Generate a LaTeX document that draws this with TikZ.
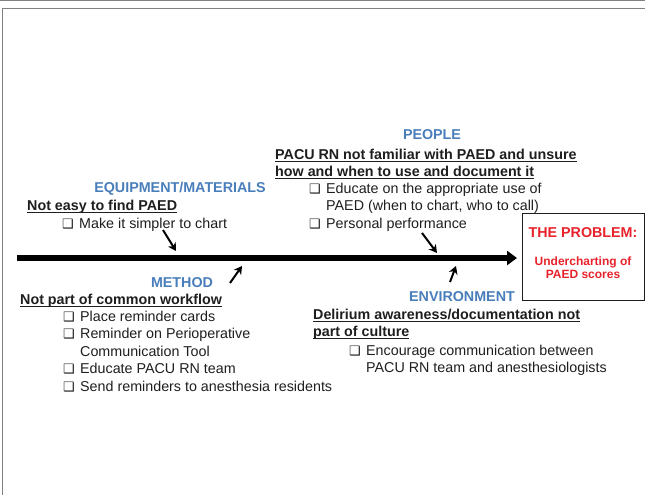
\documentclass[tikz,border=0pt]{standalone}
\usepackage{fontspec}
\setmainfont{Liberation Sans}
\newfontfamily\dejavu{DejaVu Sans}
\usetikzlibrary{arrows.meta}
\definecolor{catBlue}{HTML}{4A7EBB}
\definecolor{probRed}{HTML}{E8222B}
\definecolor{frameGray}{HTML}{808080}
\definecolor{inkBlack}{HTML}{1E1E1E}
\newcommand{\chk}{\makebox[17pt][l]{\dejavu\fontsize{13}{13}\selectfont ❑}}
\newcommand{\hang}{\hspace*{17pt}}
% heavier underline than \underline gives
\newcommand{\cause}[1]{\setbox0\hbox{#1}\rlap{\rule[-3pt]{\wd0}{1.2pt}}\box0}

\begin{document}
\begin{tikzpicture}[x=1pt,y=-1pt,
  every node/.style={inner sep=0pt, text=inkBlack, font=\fontsize{14.3}{17.5}\selectfont},
  category/.style={text=catBlue, font=\bfseries\fontsize{14.3}{17.5}\selectfont, anchor=base},
  causeline/.style={font=\bfseries\fontsize{14.3}{17}\selectfont, anchor=base west, align=left},
  actions/.style={anchor=base west, align=left},
  spine/.style={line width=6pt, -{Triangle[length=10pt,width=14pt]}},
  nudge/.style={line width=2pt, -{Stealth[length=8pt,width=9pt]}},
]
\useasboundingbox (0,0) rectangle (645,495);

% page frame
\draw[frameGray, line width=1.5pt] (0,0.75) -- (645,0.75);
\draw[frameGray, line width=1pt] (2.5,495) -- (2.5,9) -- (645,9);

% effect box
\node[draw=inkBlack, line width=1pt, minimum width=122pt, minimum height=87pt, anchor=north west] (problem) at (522,213) {};
\node[text=probRed, font=\bfseries\fontsize{14.3}{17.5}\selectfont, anchor=base] (problemhead) at (583,237) {THE PROBLEM:};
% multi-line nodes sit on the baseline of their last line
\node[text=probRed, font=\bfseries\fontsize{12}{13}\selectfont, anchor=base, align=center] (problemtext) at (583,278) {Undercharting of\\PAED scores};

% backbone
\coordinate (spinestart) at (17,258);
\draw[spine, shorten >=5pt] (spinestart) -- (spinestart -| problem.west);

% equipment / materials
\node[category] (equip) at (180,192) {EQUIPMENT/MATERIALS};
\node[causeline] (equipcause) at (27,210) {\cause{Not easy to find PAED}};
\node[actions] (equipacts) at (62,228) {\chk Make it simpler to chart};

% people
\node[category] (people) at (432,139) {PEOPLE};
\node[causeline] (peoplecause) at (275,176) {\cause{PACU RN not familiar with PAED and unsure}\\\cause{how and when to use and document it}};
\node[actions] (peopleacts) at (309,228) {\chk Educate on the appropriate use of\\\hang PAED (when to chart, who to call)\\\chk Personal performance};

% method
\node[category] (method) at (182,287) {METHOD};
\node[causeline] (methodcause) at (20,304) {\cause{Not part of common workflow}};
\node[actions] (methodacts) at (63,391) {\chk Place reminder cards\\\chk Reminder on Perioperative\\\hang Communication Tool\\\chk Educate PACU RN team\\\chk Send reminders to anesthesia residents};

% environment
\node[category] (environ) at (462,301) {ENVIRONMENT};
\node[causeline] (environcause) at (313,336) {\cause{Delirium awareness/documentation not}\\\cause{part of culture}};
\node[actions] (environacts) at (349,372.5) {\chk Encourage communication between\\\hang PACU RN team and anesthesiologists};

% small arrows onto the backbone
\coordinate (equiptail) at (163,230);
\coordinate (equiptip) at (176,251);
\coordinate (methodtail) at (230,283);
\coordinate (methodtip) at (242,266);
\coordinate (peopletail) at (422,233);
\coordinate (peopletip) at (437,253);
\coordinate (environtail) at (450,282);
\coordinate (environtip) at (456,266);
\draw[nudge] (equiptail) -- (equiptip);
\draw[nudge] (methodtail) -- (methodtip);
\draw[nudge] (peopletail) -- (peopletip);
\draw[nudge] (environtail) -- (environtip);
\end{tikzpicture}
\end{document}
